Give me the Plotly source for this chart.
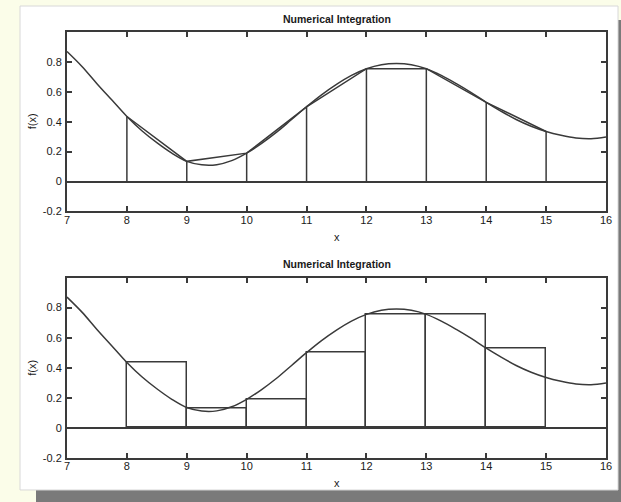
import plotly.graph_objects as go

# ---- data ----
curve_x = [7, 7.25, 7.5, 7.75, 8, 8.25, 8.5, 8.75, 9, 9.25, 9.5, 9.75, 10, 10.25, 10.5, 10.75,
           11, 11.25, 11.5, 11.75, 12, 12.25, 12.5, 12.75, 13, 13.25, 13.5, 13.75, 14, 14.25,
           14.5, 14.75, 15, 15.25, 15.5, 15.75, 16]
curve_y = [0.87, 0.77, 0.655, 0.545, 0.435, 0.34, 0.26, 0.19, 0.135, 0.112, 0.113, 0.14, 0.19,
           0.255, 0.33, 0.415, 0.50, 0.58, 0.65, 0.71, 0.755, 0.782, 0.79, 0.782, 0.755, 0.71,
           0.655, 0.595, 0.53, 0.47, 0.415, 0.37, 0.335, 0.31, 0.292, 0.287, 0.298]

node_x = [8, 9, 10, 11, 12, 13, 14, 15]
node_y = [0.435, 0.135, 0.19, 0.50, 0.755, 0.755, 0.53, 0.335]

rect_left = [8, 9, 10, 11, 12, 13, 14]
rect_height = [0.435, 0.128, 0.19, 0.50, 0.755, 0.755, 0.53]

x_ticks = [7, 8, 9, 10, 11, 12, 13, 14, 15, 16]
y_ticks = [-0.2, 0, 0.2, 0.4, 0.6, 0.8]
y_ticklabels = ["-0.2", "0", "0.2", "0.4", "0.6", "0.8"]

title_text = "Numerical Integration"
xlabel_text = "x"
ylabel_text = "f(x)"

# ---- styling ----
W, H = 621, 502          # reference pixel frame used for positions
FIG_W, FIG_H = 630, 509  # rendered size (the capture is scaled down by ~0.986)
LINE = "#3a3a3a"
BG = "#fbfde9"
FONT = dict(family="Liberation Sans, Arial, sans-serif", size=11, color="#1a1a1a")

def px(xp):
    return xp / W

def py(yp):
    return 1 - yp / H

fig = go.Figure()

# top: trapezoid outline (verticals + chords)
trap_x, trap_y = [], []
for xv, yv in zip(node_x, node_y):
    trap_x += [xv, xv, None]
    trap_y += [0, yv, None]
trap_x += node_x
trap_y += node_y

fig.add_trace(go.Scatter(x=trap_x, y=trap_y, mode="lines", line=dict(color=LINE, width=1.5),
                         xaxis="x", yaxis="y", showlegend=False, hoverinfo="skip"))
fig.add_trace(go.Scatter(x=curve_x, y=curve_y, mode="lines", line=dict(color=LINE, width=1.5, shape="spline"),
                         xaxis="x", yaxis="y", showlegend=False))

# bottom: rectangles (left rule)
fig.add_trace(go.Bar(x=rect_left, y=rect_height, width=[1] * len(rect_left), offset=0,
                     marker=dict(color="rgba(0,0,0,0)", line=dict(color=LINE, width=1.5)),
                     xaxis="x2", yaxis="y2", showlegend=False))
fig.add_trace(go.Scatter(x=curve_x, y=curve_y, mode="lines", line=dict(color=LINE, width=1.5, shape="spline"),
                         xaxis="x2", yaxis="y2", showlegend=False))

axis_common = dict(showgrid=False, showline=True, linecolor=LINE, linewidth=2, mirror="ticks",
                   ticks="inside", ticklen=5, tickwidth=1.5, tickcolor=LINE, tickfont=FONT)

xa = dict(axis_common, range=[7, 16], tickvals=x_ticks, ticktext=[str(v) for v in x_ticks],
          zeroline=False, domain=[px(64), px(603)], ticklabelstandoff=-3)
ya = dict(axis_common, range=[-0.2, 1.0], tickvals=y_ticks, ticktext=y_ticklabels,
          zeroline=True, zerolinecolor=LINE, zerolinewidth=1.5, ticklabelstandoff=1)

fig.update_layout(
    width=FIG_W, height=FIG_H,
    margin=dict(l=0, r=0, t=0, b=0),
    paper_bgcolor=BG,
    plot_bgcolor="white",
    bargap=0,
    xaxis=dict(xa, anchor="y"),
    yaxis=dict(ya, anchor="x", domain=[py(211), py(32)]),
    xaxis2=dict(xa, anchor="y2"),
    yaxis2=dict(ya, anchor="x2", domain=[py(457), py(277)]),
    shapes=[
        dict(type="rect", xref="paper", yref="paper", x0=px(615), x1=1, y0=0, y1=py(20),
             fillcolor="#7a7a7a", line=dict(width=0), layer="below"),
        dict(type="rect", xref="paper", yref="paper", x0=px(33), x1=1, y0=0, y1=py(489),
             fillcolor="#7a7a7a", line=dict(width=0), layer="below"),
        dict(type="rect", xref="paper", yref="paper", x0=px(17), x1=px(615), y0=py(489), y1=py(6),
             fillcolor="white", line=dict(color="#d8d8d8", width=1), layer="below"),
    ],
    annotations=[
        dict(text="<b>" + title_text + "</b>", x=px(334), y=py(19), xref="paper", yref="paper", showarrow=False,
             font=dict(FONT, size=10.5), xanchor="center", yanchor="middle"),
        dict(text="<b>" + title_text + "</b>", x=px(334), y=py(263), xref="paper", yref="paper", showarrow=False,
             font=dict(FONT, size=10.5), xanchor="center", yanchor="middle"),
        dict(text=xlabel_text, x=px(334), y=py(237), xref="paper", yref="paper", showarrow=False,
             font=FONT, xanchor="center", yanchor="middle"),
        dict(text=xlabel_text, x=px(334), y=py(482), xref="paper", yref="paper", showarrow=False,
             font=FONT, xanchor="center", yanchor="middle"),
        dict(text=ylabel_text, x=px(29), y=py(121), xref="paper", yref="paper", showarrow=False,
             font=FONT, textangle=-90, xanchor="center", yanchor="middle"),
        dict(text=ylabel_text, x=px(29), y=py(367), xref="paper", yref="paper", showarrow=False,
             font=FONT, textangle=-90, xanchor="center", yanchor="middle"),
    ],
)

fig.write_html(
    "out.html",
    config={"displayModeBar": False},
    post_script=(
        "document.documentElement.style.overflow='hidden';"
        "document.body.style.overflow='hidden';"
        "document.body.style.margin='0';"
        "document.body.style.background='%s';" % BG
    ),
)
